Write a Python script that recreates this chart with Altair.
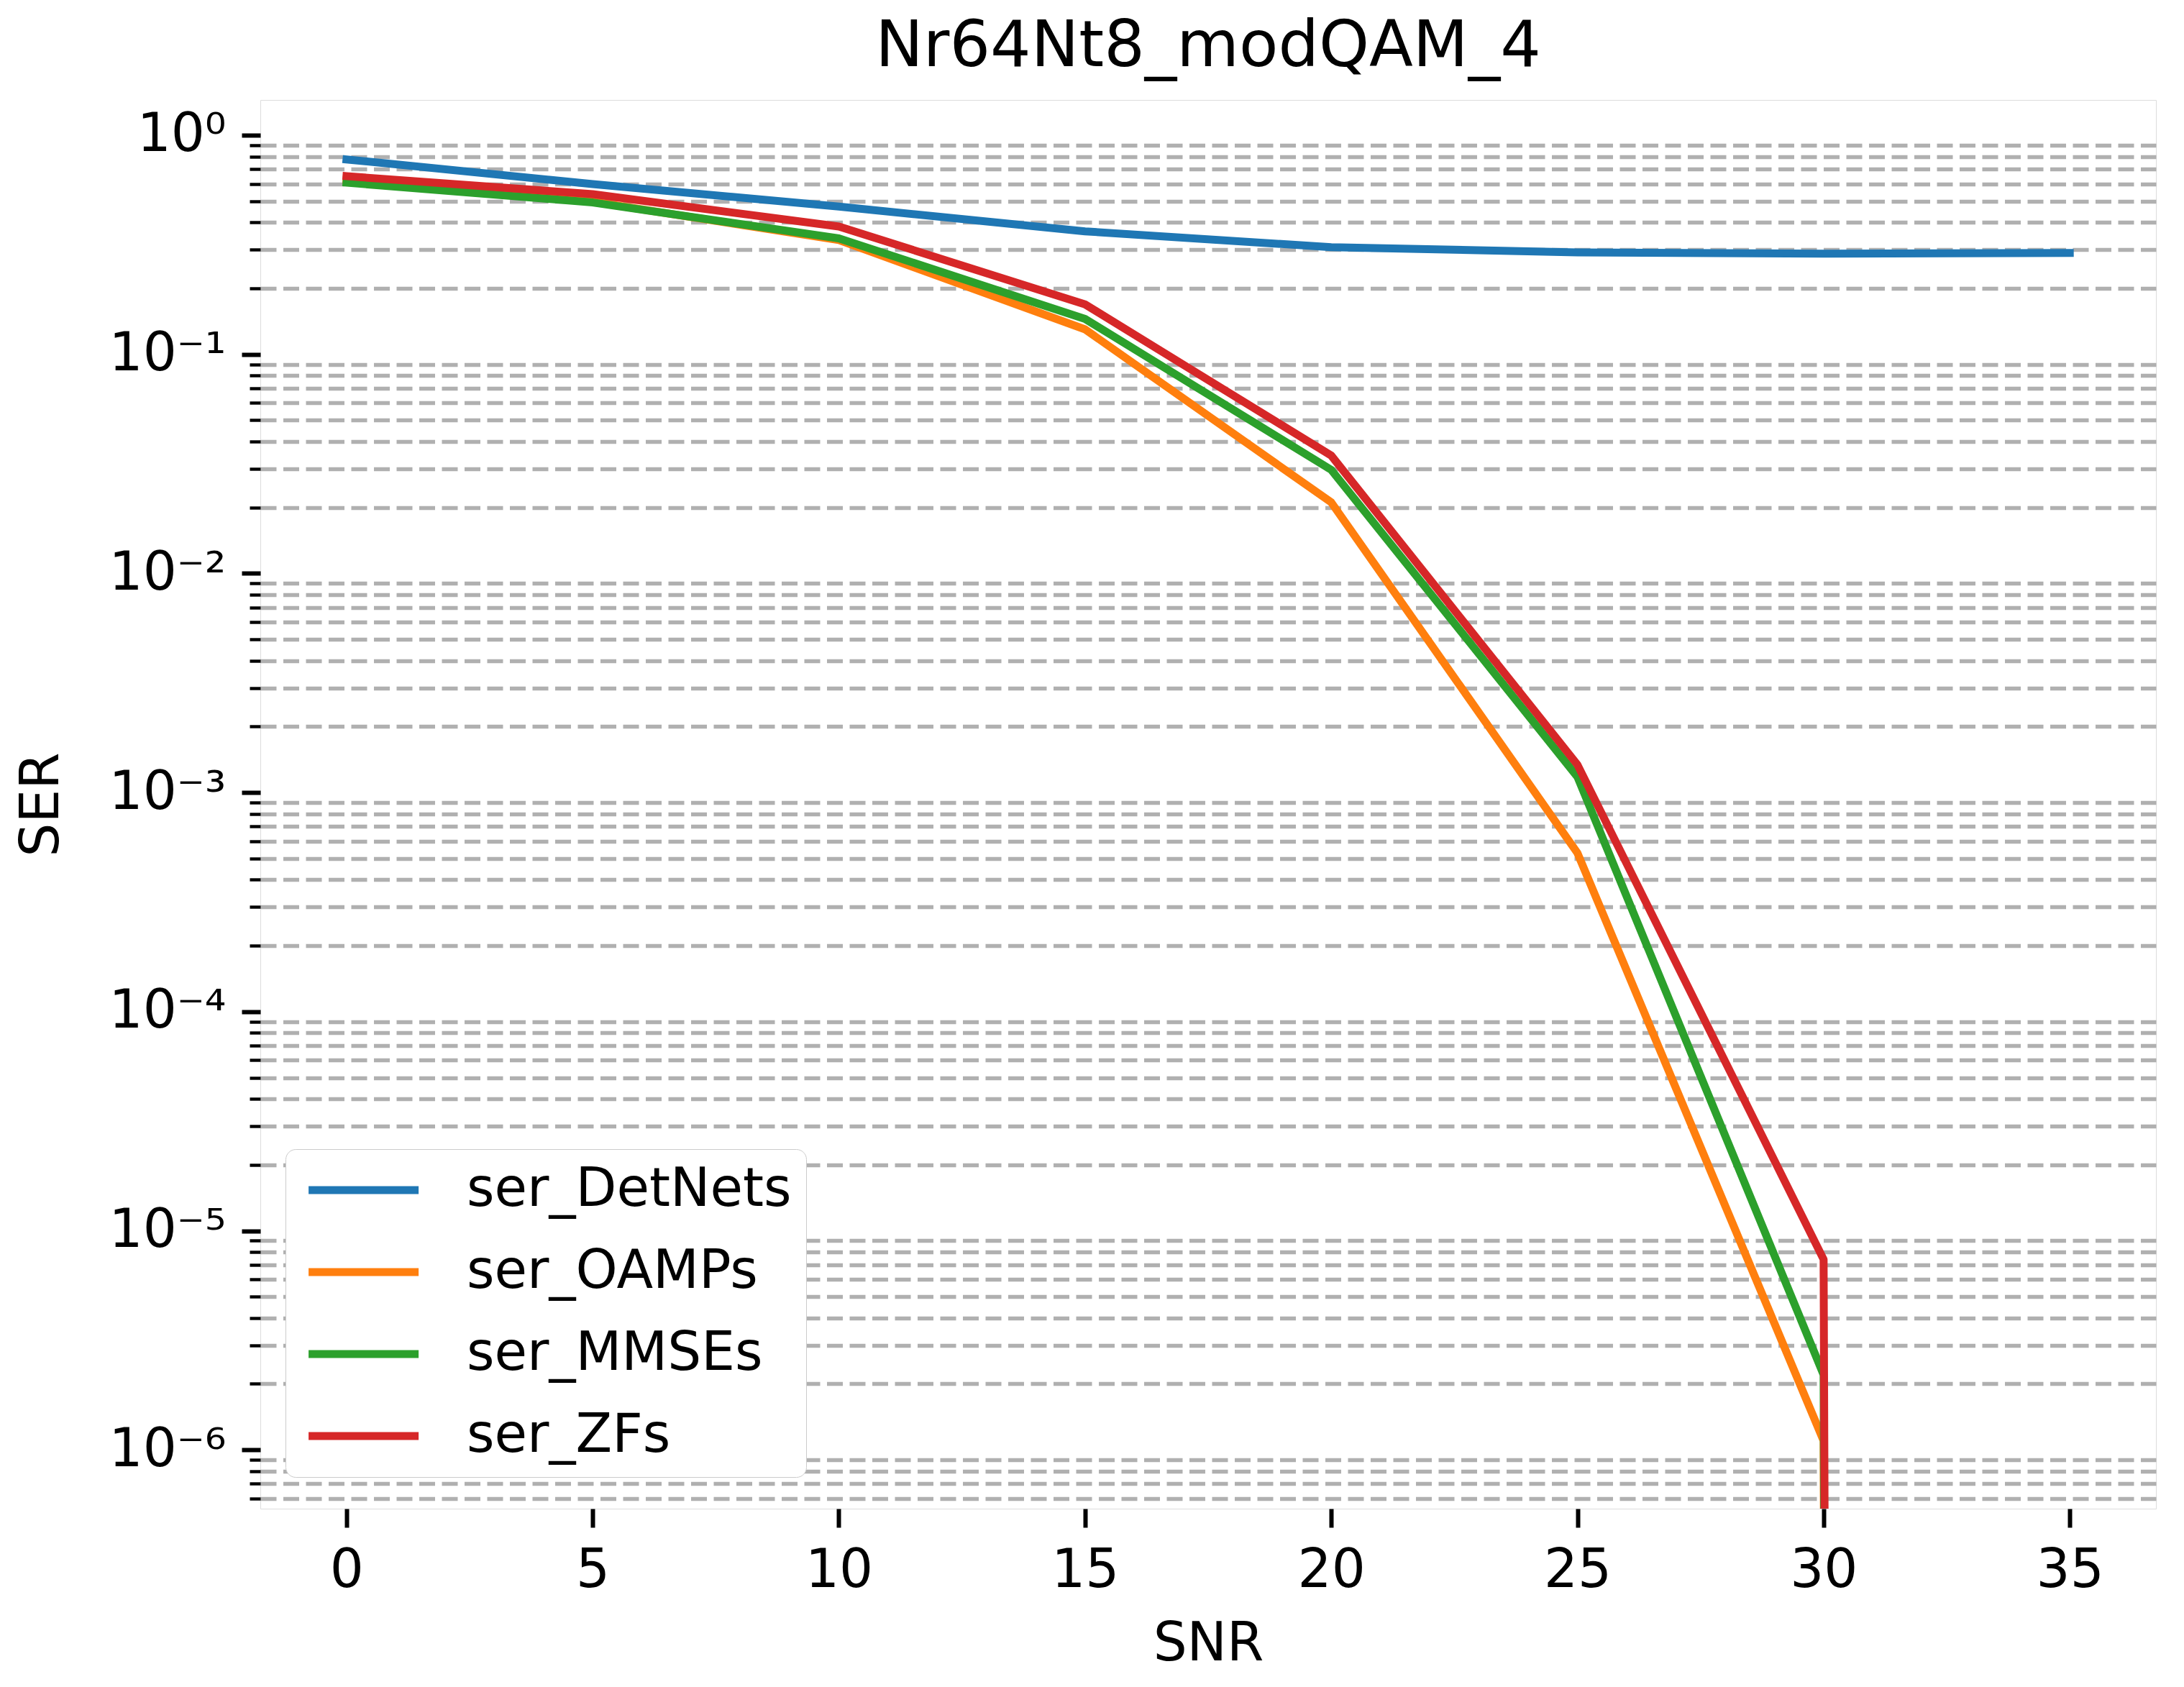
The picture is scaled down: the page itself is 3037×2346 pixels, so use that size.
import math
import altair as alt
import pandas as pd

# ---------------- data ----------------
snr = [0, 5, 10, 15, 20, 25, 30, 35]
ser_detnets = [0.775, 0.598, 0.472, 0.364, 0.308, 0.292, 0.288, 0.290]
ser_oamps = [0.625, 0.497, 0.332, 0.130, 0.0211, 5.3e-4, 1.1e-6, 0.0]
ser_mmses = [0.607, 0.493, 0.338, 0.145, 0.0297, 1.18e-3, 2.2e-6, 0.0]
ser_zfs = [0.650, 0.538, 0.383, 0.169, 0.0345, 1.34e-3, 7.4e-6, 0.0]

series_names = ["ser_DetNets", "ser_OAMPs", "ser_MMSEs", "ser_ZFs"]
series_values = [ser_detnets, ser_oamps, ser_mmses, ser_zfs]
series_colors = ["#1f77b4", "#ff7f0e", "#2ca02c", "#d62728"]

x_ticks = [0, 5, 10, 15, 20, 25, 30, 35]
y_major = [1.0, 0.1, 0.01, 0.001, 0.0001, 1e-05, 1e-06]
y_major_labels = ["10⁰", "10⁻¹", "10⁻²", "10⁻³", "10⁻⁴", "10⁻⁵", "10⁻⁶"]

title_text = "Nr64Nt8_modQAM_4"
x_title = "SNR"
y_title = "SER"

# ---------------- layout ----------------
X_DOMAIN = [-1.75, 36.75]
Y_DOMAIN = [5.39e-7, 1.448]
W, H = 2636, 1959
PAD_L, PAD_T = 362, 139
FONT = "DejaVu Sans"
FS = 74
# a zero SER cannot sit on a log axis; matplotlib sends it to -inf (a vertical drop)
ZERO_FLOOR = 1e-300

rows = []
for name, vals in zip(series_names, series_values):
    for s, v in zip(snr, vals):
        rows.append({"SNR": s, "SER": v if v > 0 else ZERO_FLOOR, "series": name})
df = pd.DataFrame(rows)

y_minor = []
for k in range(-7, 1):
    for m in range(2, 10):
        v = m * 10.0 ** k
        if Y_DOMAIN[0] <= v <= Y_DOMAIN[1]:
            y_minor.append(v)
y_values = sorted(y_major + y_minor)

is_major = "abs(log(datum.value)/LN10 - round(log(datum.value)/LN10)) < 1e-6"
label_expr = "''"
for v, lab in reversed(list(zip(y_major, y_major_labels))):
    label_expr = f"abs(datum.value - {v!r}) < {v!r}*1e-6 ? '{lab}' : ({label_expr})"

lines = (
    alt.Chart(df)
    .mark_line(strokeWidth=11, clip=True, strokeCap="square", strokeJoin="round")
    .encode(
        x=alt.X(
            "SNR:Q",
            scale=alt.Scale(domain=X_DOMAIN, nice=False, zero=False),
            axis=alt.Axis(
                values=x_ticks,
                title=x_title,
                grid=False,
                domain=False,
                ticks=True,
                tickSize=26,
                tickWidth=6,
                tickColor="black",
                labelFont=FONT,
                labelFontSize=FS,
                labelColor="black",
                labelPadding=24,
                labelFlush=False,
                labelOverlap=False,
                titleFont=FONT,
                titleFontSize=FS,
                titleFontWeight="normal",
                titleColor="black",
                titleX=W / 2,
                titleY=2286 - (PAD_T + H),
                titleBaseline="middle",
                titleAlign="center",
            ),
        ),
        y=alt.Y(
            "SER:Q",
            scale=alt.Scale(type="log", domain=Y_DOMAIN, nice=False, zero=False),
            axis=alt.Axis(
                values=y_values,
                title=y_title,
                grid=True,
                gridColor="#b0b0b0",
                gridWidth=5.5,
                gridDash=[22, 9.5],
                gridOpacity={"condition": {"test": is_major, "value": 0}, "value": 1},
                domain=False,
                ticks=True,
                tickColor="black",
                tickSize={"condition": {"test": is_major, "value": 26}, "value": 15},
                tickWidth={"condition": {"test": is_major, "value": 6}, "value": 4.4},
                labelExpr=label_expr,
                labelFont=FONT,
                labelFontSize=FS,
                labelColor="black",
                labelPadding=22,
                labelOverlap=False,
                labelFlush=False,
                titleFont=FONT,
                titleFontSize=FS,
                titleFontWeight="normal",
                titleColor="black",
                titleX=58 - PAD_L,
                titleY=H / 2,
                titleAngle=270,
                titleBaseline="middle",
                titleAlign="center",
            ),
        ),
        color=alt.Color(
            "series:N",
            sort=series_names,
            scale=alt.Scale(domain=series_names, range=series_colors),
            legend=alt.Legend(
                title=None,
                orient="none",
                legendX=35,
                legendY=1459,
                symbolType="M-0.83,0L4.27,0",
                symbolSize=3600,
                symbolStrokeWidth=11,
                symbolFillColor="transparent",
                labelFont=FONT,
                labelFontSize=FS,
                labelColor="black",
                labelOffset=158,
                rowPadding=40,
                padding=20,
                fillColor="white",
                strokeColor="#cccccc",
                cornerRadius=14,
                labelLimit=1000,
            ),
        ),
        order=alt.Order("SNR:Q"),
    )
)

chart = (
    lines.properties(
        width=W,
        height=H,
        title=alt.TitleParams(
            title_text,
            font=FONT,
            fontSize=89,
            fontWeight="normal",
            color="black",
            anchor="middle",
            frame="group",
            baseline="alphabetic",
            offset=-42,
        ),
        autosize=alt.AutoSizeParams(type="none"),
        padding={"left": PAD_L, "top": PAD_T, "right": 3037 - PAD_L - W, "bottom": 2346 - PAD_T - H},
    )
    .configure_view(stroke="black", strokeWidth=6)
    .configure_legend(strokeWidth=5)
    .configure(background="white")
)

chart.save("out.html", embed_options={"renderer": "svg", "actions": False})
